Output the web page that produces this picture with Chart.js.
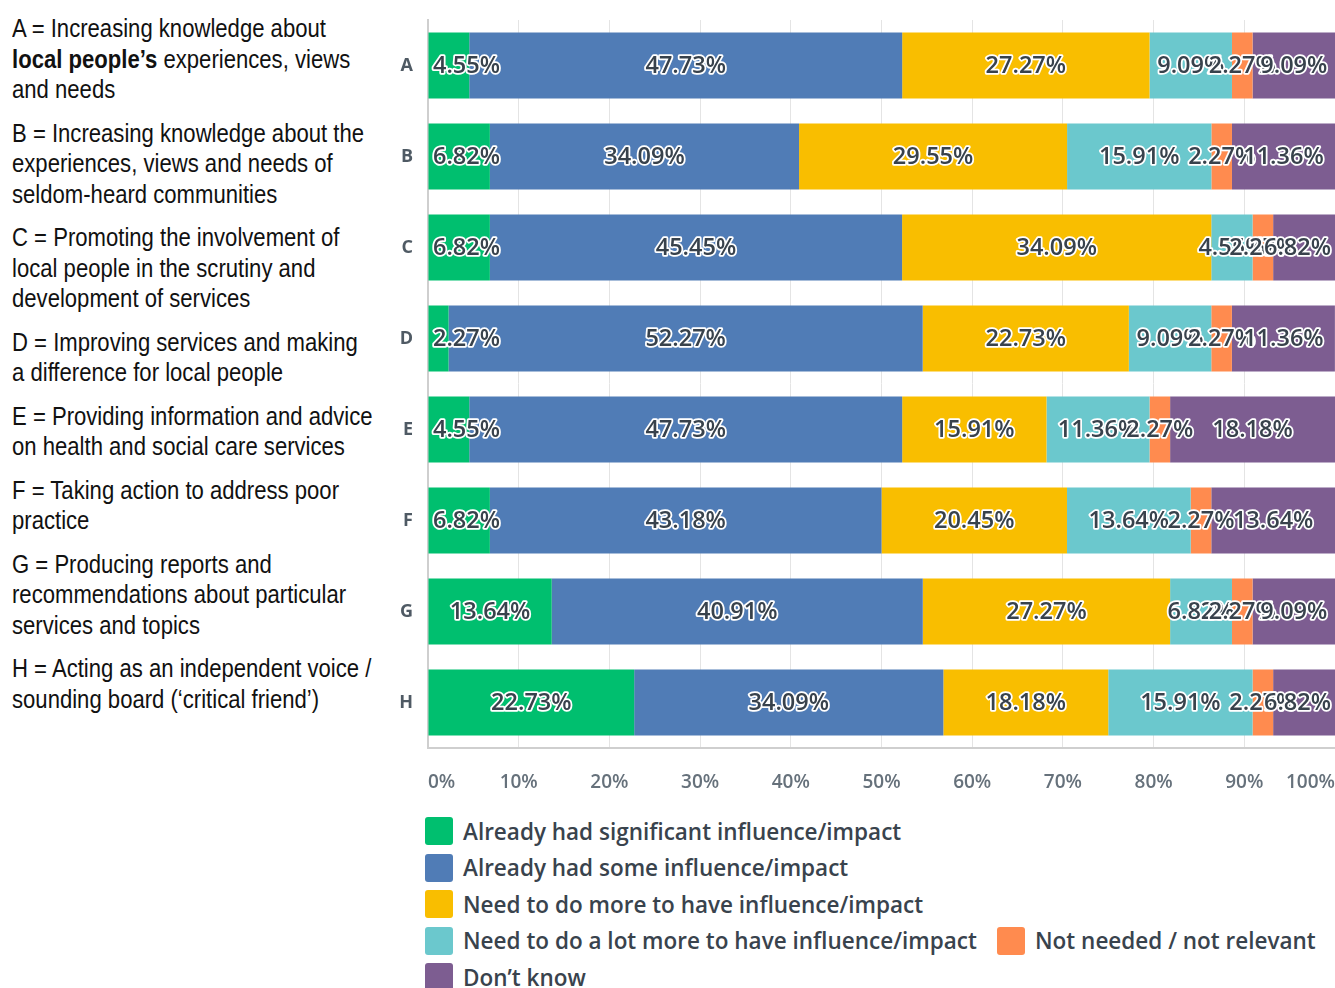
<!DOCTYPE html>
<html>
<head>
<meta charset="utf-8">
<script src="https://cdn.jsdelivr.net/npm/chart.js@4.4.1/dist/chart.umd.min.js"></script>
<style>
  html, body { margin: 0; padding: 0; background: #fff; width: 1335px; height: 988px; overflow: hidden; }
  #key { position: absolute; left: 12px; top: 13px; font-family: "Liberation Sans Narrow", "Arial Narrow", sans-serif;
         font-size: 26px; line-height: 30.5px; color: #111; transform-origin: 0 0; transform: scaleX(1.02); }
  #key p { margin: 0 0 13px 0; white-space: nowrap; }
  #plot { position: absolute; left: 380px; top: 0; width: 955px; height: 800px; }
  #legend { position: absolute; left: 425px; top: 817px; font-family: "Open Sans", sans-serif; font-weight: 600;
            font-size: 22.5px; color: #39434d; }
  .lrow { position: relative; height: 36.6px; }
  .litem { position: absolute; top: 0; display: flex; align-items: center; height: 28px; white-space: nowrap; }
  .sw { width: 28px; height: 28px; border-radius: 3px; margin-right: 10px; flex: none; }
</style>
</head>
<body>
<div id="key">
  <p>A = Increasing knowledge about<br><b>local people’s</b> experiences, views<br>and needs</p>
  <p>B = Increasing knowledge about the<br>experiences, views and needs of<br>seldom-heard communities</p>
  <p>C = Promoting the involvement of<br>local people in the scrutiny and<br>development of services</p>
  <p>D = Improving services and making<br>a difference for local people</p>
  <p>E = Providing information and advice<br>on health and social care services</p>
  <p>F = Taking action to address poor<br>practice</p>
  <p>G = Producing reports and<br>recommendations about particular<br>services and topics</p>
  <p>H = Acting as an independent voice /<br>sounding board (‘critical friend’)</p>
</div>
<div id="plot"><canvas id="chart"></canvas></div>
<div id="legend"></div>
<script>
// Row categories (explained in the key on the left)
const categories = ['A', 'B', 'C', 'D', 'E', 'F', 'G', 'H'];

// Percentage of responses per category
const significantImpact = [4.55, 6.82, 6.82, 2.27, 4.55, 6.82, 13.64, 22.73];
const someImpact        = [47.73, 34.09, 45.45, 52.27, 47.73, 43.18, 40.91, 34.09];
const needMore          = [27.27, 29.55, 34.09, 22.73, 15.91, 20.45, 27.27, 18.18];
const needLotMore       = [9.09, 15.91, 4.55, 9.09, 11.36, 13.64, 6.82, 15.91];
const notNeeded         = [2.27, 2.27, 2.27, 2.27, 2.27, 2.27, 2.27, 2.27];
const dontKnow          = [9.09, 11.36, 6.82, 11.36, 18.18, 13.64, 9.09, 6.82];

// Answer options and their colours
const seriesNames = [
  'Already had significant influence/impact',
  'Already had some influence/impact',
  'Need to do more to have influence/impact',
  'Need to do a lot more to have influence/impact',
  'Not needed / not relevant',
  'Don’t know'
];
const seriesColors = ['#00bf6f', '#507cb6', '#f9be00', '#6bc8cd', '#ff8b4f', '#7d5d91'];
const seriesValues = [significantImpact, someImpact, needMore, needLotMore, notNeeded, dontKnow];

// Axis ticks
const xTickValues = [0, 10, 20, 30, 40, 50, 60, 70, 80, 90, 100];

// Narrow font fallback: squeeze regular Liberation Sans if the narrow face is missing
(function () {
  const c = document.createElement('canvas').getContext('2d');
  const s = 'Increasing knowledge about';
  c.font = '26px "Liberation Sans Narrow", monospace';
  const w1 = c.measureText(s).width;
  c.font = '26px monospace';
  const w2 = c.measureText(s).width;
  if (Math.abs(w1 - w2) < 0.5) {
    const key = document.getElementById('key');
    key.style.fontFamily = '"Liberation Sans", Arial, sans-serif';
    key.style.transform = 'scaleX(0.85)';
  }
})();

// Percentage labels centred in each segment, kept inside the plot area
const segmentLabels = {
  id: 'segmentLabels',
  afterDatasetsDraw(chart) {
    const { ctx, chartArea } = chart;
    ctx.save();
    ctx.font = '600 23.5px "Open Sans", sans-serif';
    ctx.textBaseline = 'middle';
    ctx.textAlign = 'left';
    ctx.lineJoin = 'round';
    chart.data.datasets.forEach((ds, di) => {
      const meta = chart.getDatasetMeta(di);
      meta.data.forEach((bar, i) => {
        const text = ds.data[i].toFixed(2) + '%';
        const w = ctx.measureText(text).width;
        let x = (bar.x + bar.base) / 2 - w / 2;
        x = Math.max(x, chartArea.left + 5);
        x = Math.min(x, chartArea.right - 4 - w);
        ctx.strokeStyle = '#ffffff';
        ctx.lineWidth = 3.5;
        ctx.strokeText(text, x, bar.y + 1);
        ctx.fillStyle = '#38424c';
        ctx.fillText(text, x, bar.y + 1);
      });
    });
    ctx.restore();
  }
};

new Chart(document.getElementById('chart'), {
  type: 'bar',
  data: {
    labels: categories,
    datasets: seriesNames.map((name, k) => ({
      label: name,
      data: seriesValues[k],
      backgroundColor: seriesColors[k],
      borderWidth: 0,
      barPercentage: 0.725,
      categoryPercentage: 1
    }))
  },
  options: {
    indexAxis: 'y',
    responsive: true,
    maintainAspectRatio: false,
    animation: false,
    layout: { autoPadding: false, padding: { top: 20, right: 0, bottom: 0, left: 0 } },
    plugins: { legend: { display: false }, tooltip: { enabled: false } },
    scales: {
      x: {
        stacked: true,
        min: 0,
        max: 100,
        afterBuildTicks: (s) => { s.ticks = xTickValues.map(v => ({ value: v })); },
        afterFit: (s) => { s.height = 52; s.paddingLeft = 0; s.paddingRight = 0; },
        grid: { color: '#e4e4e4', lineWidth: 1, drawTicks: false },
        border: { display: true, color: '#cfcfcf', width: 2 },
        ticks: {
          padding: 23,
          align: 'inner',
          color: '#66717b',
          font: { family: '"Open Sans", sans-serif', size: 19, weight: '600' },
          callback: (v) => v + '%'
        }
      },
      y: {
        stacked: true,
        afterFit: (s) => { s.width = 48; s.paddingTop = 0; s.paddingBottom = 0; },
        grid: { display: true, drawOnChartArea: false, drawTicks: false },
        border: { display: true, color: '#cfcfcf', width: 2 },
        ticks: {
          padding: 15,
          color: '#4f5a64',
          font: { family: '"Open Sans", sans-serif', size: 18, weight: '700' }
        }
      }
    }
  },
  plugins: [segmentLabels]
});

// Legend laid out in rows; the fourth row holds two entries
const legendRows = [[0], [1], [2], [3, 4], [5]];
const legendOffsets = { 4: 572 };
const legend = document.getElementById('legend');
legendRows.forEach(row => {
  const r = document.createElement('div');
  r.className = 'lrow';
  row.forEach(k => {
    const it = document.createElement('div');
    it.className = 'litem';
    it.style.left = (legendOffsets[k] || 0) + 'px';
    const sw = document.createElement('span');
    sw.className = 'sw';
    sw.style.background = seriesColors[k];
    const tx = document.createElement('span');
    tx.textContent = seriesNames[k];
    it.appendChild(sw);
    it.appendChild(tx);
    r.appendChild(it);
  });
  legend.appendChild(r);
});
</script>
</body>
</html>
